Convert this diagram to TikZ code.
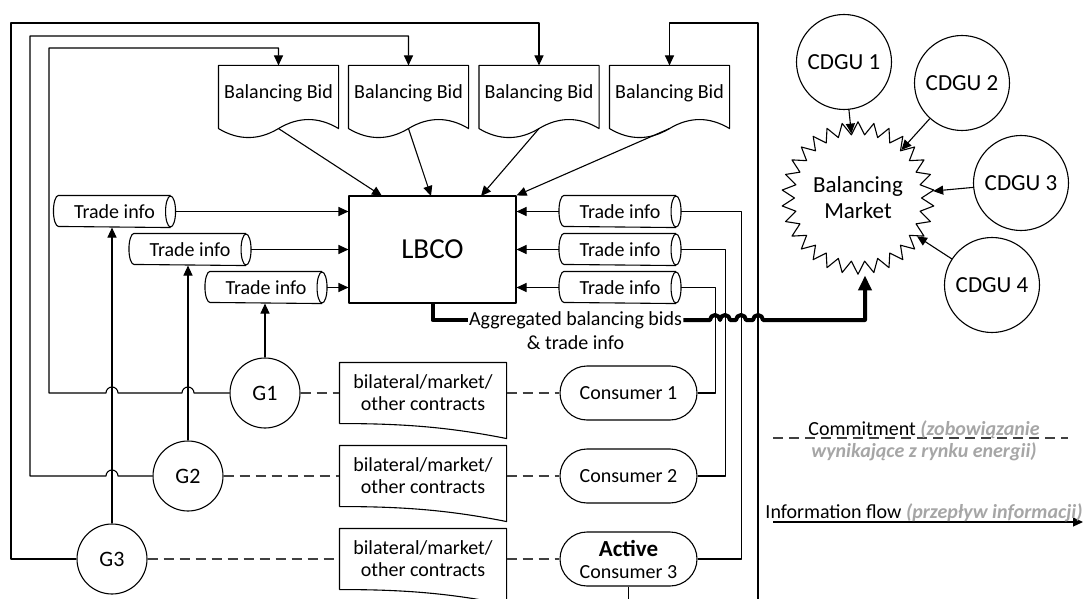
\documentclass[tikz,border=0pt]{standalone}
\usepackage{fontspec}
\setmainfont{Carlito}
\usetikzlibrary{arrows.meta,calc,shapes.geometric,shapes.misc}

\definecolor{polgrey}{HTML}{A6A6A6}

% document outline with a wavy bottom
\newcommand\bidshape[1]{%
  \draw (#1.south west) -- (#1.north west) -- (#1.north east) -- (#1.south east)
    .. controls +(-20,-12) and +(20,-12) .. (#1.south)
    .. controls +(-20,12) and +(20,12) .. (#1.south west);}
% contract sheet, bottom edge sagging to the right
\newcommand\contractshape[1]{%
  \draw (#1.south west) -- (#1.north west) -- (#1.north east) -- ($(#1.south east)+(0,15)$)
    .. controls +(-60,-12) and +(60,0) .. (#1.south west);}
% lying cylinder
\newcommand\tradeshape[1]{%
  \draw ($(#1.north east)+(-5,0)$) -- ($(#1.north west)+(5,0)$)
    arc[start angle=-90, end angle=-270, x radius=5, y radius=15.5]
    -- ($(#1.south east)+(-5,0)$);
  \draw ($(#1.east)+(-5,0)$) ellipse [x radius=5, y radius=15.5];}

\begin{document}
\begin{tikzpicture}[x=1pt, y=-1pt, line width=1.1pt, line join=round,
  font=\fontsize{20}{22}\selectfont,
  flow/.style={-{Triangle[length=10pt,width=9pt]}},
  bigflow/.style={line width=4pt, -{Triangle[length=15pt,width=13pt]}},
  commit/.style={dash pattern=on 10pt off 6pt, black!75},
  bidbox/.style={minimum width=119pt, minimum height=62pt, inner sep=0pt, text depth=11pt},
  contract/.style={minimum width=166pt, minimum height=60pt, inner sep=0pt, align=center},
  tradeinfo/.style={minimum width=121pt, minimum height=31pt, inner sep=0pt},
  gen/.style={circle, draw, minimum size=70pt, inner sep=0pt, font=\fontsize{22}{24}\selectfont},
  consumer/.style={rounded rectangle, draw, minimum width=137pt, minimum height=54pt, inner sep=0pt, align=center},
  cdgu/.style={circle, draw, minimum size=95pt, inner sep=0pt, font=\fontsize{23}{25}\selectfont}]
  \useasboundingbox (0,0) rectangle (1090,599);

  % bids and operator
  \node[bidbox] (bid1) at (278.5,97) {Balancing Bid};
  \node[bidbox] (bid2) at (408.5,97) {Balancing Bid};
  \node[bidbox] (bid3) at (539,97) {Balancing Bid};
  \node[bidbox] (bid4) at (669.5,97) {Balancing Bid};
  \foreach \b in {bid1,bid2,bid3,bid4} {\bidshape{\b}}
  \node[draw, minimum width=167pt, minimum height=107pt, font=\fontsize{29}{32}\selectfont] (lbco) at (432.5,249.5) {LBCO};

  \draw[flow] (bid1.south) -- (382,196);
  \draw[flow] (bid2.south) -- (431,196);
  \draw[flow] (bid3.south) -- (481,196);
  \draw[flow] (bid4.south) -- (lbco.north east);

  % trade info
  \node[tradeinfo] (tl1) at (114.5,211.5) {Trade info};
  \node[tradeinfo] (tl2) at (190,249.5) {Trade info};
  \node[tradeinfo] (tl3) at (266,287.5) {Trade info};
  \node[tradeinfo] (tr1) at (620,211.5) {Trade info};
  \node[tradeinfo] (tr2) at (620,249.5) {Trade info};
  \node[tradeinfo] (tr3) at (620,287.5) {Trade info};
  \foreach \t in {tl1,tl2,tl3,tr1,tr2,tr3} {\tradeshape{\t}}
  \foreach \t in {tl1,tl2,tl3} {\draw[flow] (\t.east) -- (\t.east -| lbco.west);}
  \foreach \t in {tr1,tr2,tr3} {\draw[flow] (\t.west) -- (\t.west -| lbco.east);}

  % generators, contracts, consumers
  \node[gen] (g1) at (265,393) {G1};
  \node[gen] (g2) at (188,476) {G2};
  \node[gen] (g3) at (112,559) {G3};
  \node[contract] (k1) at (423,393) {bilateral/market/\\other contracts};
  \node[contract] (k2) at (423,476) {bilateral/market/\\other contracts};
  \node[contract] (k3) at (423,559) {bilateral/market/\\other contracts};
  \foreach \k in {k1,k2,k3} {\contractshape{\k}}
  \node[consumer] (c1) at (628.5,393) {Consumer 1};
  \node[consumer] (c2) at (628.5,476) {Consumer 2};
  \node[consumer] (c3) at (628.5,559) {{\bfseries\fontsize{23}{25}\selectfont Active}\\Consumer 3};

  \foreach \i in {1,2,3} {
    \draw[commit] (g\i.east) -- (k\i.west);
    \draw[commit] (k\i.east) -- (c\i.west);
  }

  \draw[flow] (g1.north) -- (g1.north |- tl3.south);
  \draw[flow] (g2.north) -- (g2.north |- tl2.south);
  \draw[flow] (g3.north) -- (g3.north |- tl1.south);

  \draw[flow] (g1.west) -- (194,393) arc[start angle=0, end angle=-180, radius=6]
    -- (118,393) arc[start angle=0, end angle=-180, radius=6]
    -- (49,393) -- (49,48) -| (bid1.north);
  \draw[flow] (g2.west) -- (118,476) arc[start angle=0, end angle=-180, radius=6]
    -- (30,476) -- (30,36) -| (bid2.north);
  \draw[flow] (g3.west) -- (11,559) -- (11,23) -| (bid3.north);

  \draw (c1.east) -- ++(18,0) |- (tr3.east);
  \draw (c2.east) -- ++(28,0) |- (tr2.east);
  \draw (c3.east) -- ++(44,0) |- (tr1.east);
  \draw[flow] (c3.south) -- ++(0,40) -| (758,23) -| (bid4.north);

  % balancing market
  \node[star, star points=30, star point ratio=1.2, draw, minimum size=138pt, inner sep=0pt,
    align=center, font=\fontsize{23}{26}\selectfont] (bm) at (858,198) {Balancing\\Market};
  \node[cdgu] (cd1) at (844,62) {CDGU 1};
  \node[cdgu] (cd2) at (962,83) {CDGU 2};
  \node[cdgu] (cd3) at (1021,183) {CDGU 3};
  \node[cdgu] (cd4) at (992,285) {CDGU 4};
  \foreach \c in {cd1,cd2,cd3,cd4} {\draw[flow] (\c) -- (bm);}

  \node[inner sep=1pt] (agg) at (575.5,320) {Aggregated balancing bids};
  \node[inner sep=1pt] (agg2) at (575.5,343) {\& trade info};
  \draw[line width=4pt] (lbco.south) |- (agg.west);
  \draw[bigflow] (agg.east) -- (710,320) arc[start angle=180, end angle=360, radius=5]
    arc[start angle=180, end angle=360, radius=5]
    -- (736,320) arc[start angle=180, end angle=360, radius=5]
    -- (753,320) arc[start angle=180, end angle=360, radius=5]
    -- (865,320) -- (bm.south -| 865,320);

  % legend
  \coordinate (cm1) at (773,438);
  \coordinate (cm2) at (1068,438);
  \draw[commit] (cm1) -- (cm2);
  \node[align=center] (cmtxt) at (924,441) {Commitment \textcolor{polgrey}{\bfseries\itshape(zobowiązanie}\\\textcolor{polgrey}{\bfseries\itshape wynikające z rynku energii)}};
  \coordinate (if1) at (773,522);
  \coordinate (if2) at (1083,522);
  \draw[flow] (if1) -- (if2);
  \node (iftxt) at (924,513) {Information flow \textcolor{polgrey}{\bfseries\itshape(przepływ informacji)}};
\end{tikzpicture}
\end{document}
